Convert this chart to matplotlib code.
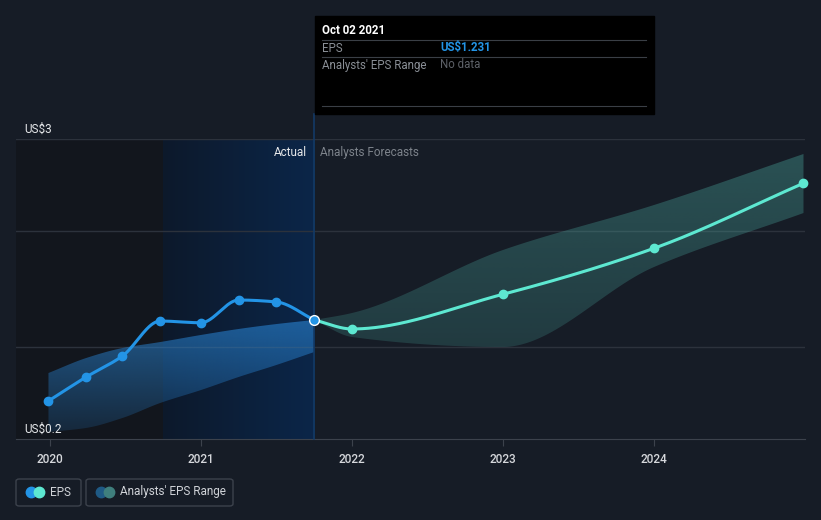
import numpy as np
import matplotlib.pyplot as plt
from matplotlib.patches import Rectangle, FancyBboxPatch
from matplotlib.lines import Line2D
from matplotlib.colors import LinearSegmentedColormap, to_rgb

plt.rcParams['font.family'] = ['Roboto', 'DejaVu Sans']

# ---- data (decimal years, EPS in US$) ----
eps_x = [2019.99, 2020.24, 2020.48, 2020.73, 2021.0, 2021.25, 2021.5, 2021.75]
eps_y = [0.555, 0.779, 0.975, 1.301, 1.285, 1.497, 1.479, 1.311]

band_x = [2019.99, 2020.24, 2020.48, 2020.73, 2021.0, 2021.25, 2021.5, 2021.75]
band_lo = [0.265, 0.303, 0.396, 0.536, 0.657, 0.779, 0.891, 1.012]
band_hi = [0.816, 0.956, 1.049, 1.105, 1.171, 1.227, 1.273, 1.311]

fc_x = [2021.75, 2022.0, 2023.0, 2024.0, 2024.99]
fc_y = [1.311, 1.227, 1.551, 1.980, 2.587]
fc_lo = [1.311, 1.152, 1.059, 1.805, 2.309]
fc_hi = [1.311, 1.376, 1.964, 2.384, 2.860]

grid_vals = [1.06, 2.14, 3.0]
year_ticks = [2020, 2021, 2022, 2023, 2024]

BG = '#161c26'
BLUE = '#2394e6'
TEAL = '#5de8d1'


def pchip(x, y, n=200):
    # monotone cubic, only used to draw smooth curves between the points
    x = np.asarray(x, float)
    y = np.asarray(y, float)
    h = np.diff(x)
    d = np.diff(y) / h
    m = np.zeros(len(x))
    m[0], m[-1] = d[0], d[-1]
    for k in range(1, len(x) - 1):
        if d[k - 1] * d[k] <= 0:
            m[k] = 0
        else:
            w1 = 2 * h[k] + h[k - 1]
            w2 = h[k] + 2 * h[k - 1]
            m[k] = (w1 + w2) / (w1 / d[k - 1] + w2 / d[k])
    xs = np.linspace(x[0], x[-1], n)
    idx = np.clip(np.searchsorted(x, xs) - 1, 0, len(x) - 2)
    t = (xs - x[idx]) / h[idx]
    h00 = 2 * t**3 - 3 * t**2 + 1
    h10 = t**3 - 2 * t**2 + t
    h01 = -2 * t**3 + 3 * t**2
    h11 = t**3 - t**2
    ys = h00 * y[idx] + h10 * h[idx] * m[idx] + h01 * y[idx + 1] + h11 * h[idx] * m[idx + 1]
    return xs, ys


def gradient_band(ax, xs, lo, hi, color, a_top, a_bot, y_top, y_bot):
    poly = ax.fill_between(xs, lo, hi, color='none', lw=0)
    rgb = to_rgb(color)
    img = np.zeros((256, 1, 4))
    img[:, 0, :3] = rgb
    img[:, 0, 3] = np.linspace(a_top, a_bot, 256)
    im = ax.imshow(img, extent=[xs[0], xs[-1], y_bot, y_top], aspect='auto',
                   origin='upper', zorder=2, interpolation='bilinear')
    im.set_clip_path(poly.get_paths()[0], transform=ax.transData)


fig = plt.figure(figsize=(8.21, 5.20), dpi=100, facecolor=BG)
ax = fig.add_axes([16 / 821, 81 / 520, 789 / 821, 300 / 520])
ax.set_facecolor(BG)
x0, x1 = 2019.775, 2025.0

# darker past region + blue gradient for last 12 months
ax.axvspan(x0, 2020.75, color='#12161d', zorder=0, lw=0)
grad = np.linspace(0, 1, 256).reshape(1, -1)
cmap = LinearSegmentedColormap.from_list('g', ['#0d192b', '#0b2649'])
ax.imshow(grad, extent=[2020.75, 2021.75, 0.2, 3.0], aspect='auto', cmap=cmap, zorder=0.5)

for g in grid_vals:
    ax.axhline(g, color='#2c323c', lw=1, zorder=1)

# bands
bx, blo = pchip(band_x, band_lo)
_, bhi = pchip(band_x, band_hi)
gradient_band(ax, bx, blo, bhi, '#2a86d6', 0.62, 0.14, 1.35, 0.2)
fx, flo = pchip(fc_x, fc_lo)
_, fhi = pchip(fc_x, fc_hi)
gradient_band(ax, fx, flo, fhi, '#4fb3a8', 0.36, 0.2, 2.9, 1.0)

# lines
ex, ey = pchip(eps_x, eps_y, 400)
ax.plot(ex, ey, color=BLUE, lw=2.2, zorder=4, solid_capstyle='round')
ax.plot(eps_x[:-1], eps_y[:-1], 'o', color=BLUE, ms=6, zorder=5)
cx, cy = pchip(fc_x, fc_y, 400)
ax.plot(cx, cy, color=TEAL, lw=2.2, zorder=4, solid_capstyle='round')
ax.plot(fc_x[1:], fc_y[1:], 'o', color=TEAL, ms=6, zorder=5, clip_on=False)
ax.plot(eps_x[-1:], eps_y[-1:], 'o', color=BLUE, mec='white', mew=1, ms=7, zorder=6)

# marker line for tooltip
ax.axvline(2021.75, ymin=0, ymax=(439 - 114) / 300, color='#133a66', lw=1.2,
           zorder=3, clip_on=False)

ax.set_xlim(x0, x1)
ax.set_ylim(0.2, 3.0)

# axes styling
for s in ax.spines.values():
    s.set_visible(False)
ax.spines['bottom'].set_visible(True)
ax.spines['bottom'].set_color('#3c424c')
ax.set_yticks([])
ax.set_xticks(year_ticks)
ax.set_xticklabels([str(y) for y in year_ticks])
ax.tick_params(axis='x', colors='#3c424c', labelcolor='#d6d8dc', length=5,
               labelsize=8.5, pad=5)
for lab in ax.get_xticklabels():
    lab.set_fontweight('medium')

ax.text(0.011, 1.012, 'US$3', transform=ax.transAxes, color='#e6e8ea', fontsize=8.5,
        va='bottom', ha='left')
ax.text(0.011, 0.012, 'US$0.2', transform=ax.transAxes, color='#e6e8ea', fontsize=8.5,
        va='bottom', ha='left', zorder=7)
ax.text(2021.7, 2.87, 'Actual', color='#e6e8ea', fontsize=8.5, ha='right', va='center')
ax.text(2021.79, 2.87, 'Analysts Forecasts', color='#7d838b', fontsize=8.5,
        ha='left', va='center')

# tooltip box
W, H = 821, 520


def fx_(px):
    return px / W


def fy_(py):
    return 1 - py / H


fig.add_artist(Rectangle((fx_(315), fy_(114)), fx_(339), 98 / H, color='black', zorder=10))
for py in [40, 57, 106]:
    fig.add_artist(Line2D([fx_(322), fx_(646)], [fy_(py), fy_(py)], color='#3a3f46',
                          lw=0.8, zorder=11))
fig.text(fx_(322), fy_(31), 'Oct 02 2021', color='white', fontsize=8.3,
         fontweight='bold', va='center', zorder=12)
fig.text(fx_(322), fy_(48), 'EPS', color='#8a8f96', fontsize=8.3, va='center', zorder=12)
fig.text(fx_(440), fy_(48), 'US$1.231', color=BLUE, fontsize=8.3, fontweight='bold',
         va='center', zorder=12)
fig.text(fx_(322), fy_(65), "Analysts' EPS Range", color='#8a8f96', fontsize=8.3,
         va='center', zorder=12)
fig.text(fx_(440), fy_(65), 'No data', color='#5d6168', fontsize=8.3, va='center', zorder=12)

# legend
legend_items = [
    ('EPS', 16, 65, BLUE, TEAL),
    ("Analysts' EPS Range", 86, 147, '#1f5a85', '#3f7f7d'),
]
for label, lx, lw_, c1, c2 in legend_items:
    fig.add_artist(FancyBboxPatch((fx_(lx), fy_(506)), fx_(lw_), 27 / H,
                                  boxstyle='round,pad=0,rounding_size=0.004',
                                  fc='none', ec='#3c424c', lw=1))
    fig.add_artist(Line2D([fx_(lx + 15)], [fy_(492)], marker='o', ms=7.5, color=c1, lw=0))
    fig.add_artist(Line2D([fx_(lx + 23)], [fy_(492)], marker='o', ms=7.5, color=c2, lw=0))
    fig.text(fx_(lx + 34), fy_(492), label, color='#d0d3d8', fontsize=8.5, va='center')

fig.savefig('out.png', dpi=100, facecolor=BG)
